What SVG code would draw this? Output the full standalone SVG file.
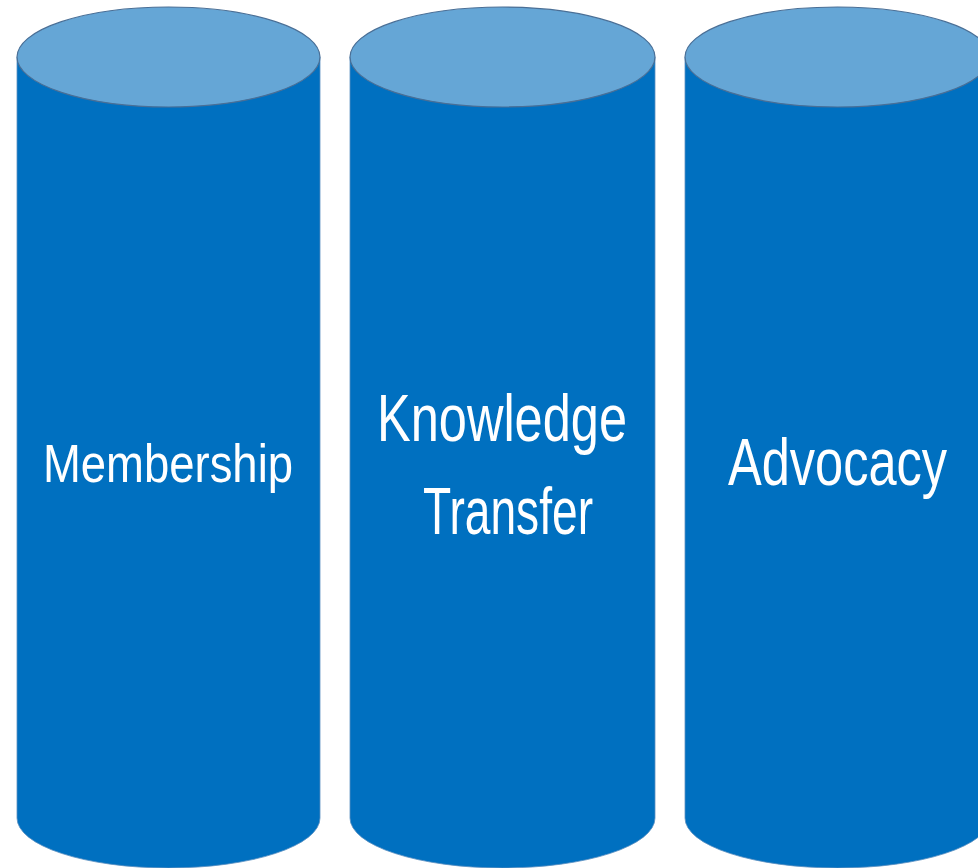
<svg xmlns="http://www.w3.org/2000/svg" width="978" height="868" viewBox="0 0 978 868">
<style>
.body{fill:#0070C0;stroke:#5a8fc0;stroke-width:0.8}
.top{fill:#65A6D6;stroke:#4a6f96;stroke-width:1.2}
.lbl{font-family:"Liberation Sans",Arial,sans-serif;fill:#ffffff;text-anchor:middle}
</style>
<rect width="978" height="868" fill="#ffffff"/>
<g id="membership">
<path class="body" d="M17,57 L17,818 A151.5,50 0 0 0 320,818 L320,57 Z"/>
<ellipse class="top" cx="168.5" cy="57" rx="151.5" ry="50"/>
<text class="lbl" x="168" y="482" font-size="54" textLength="250" lengthAdjust="spacingAndGlyphs">Membership</text>
</g>
<g id="knowledge-transfer">
<path class="body" d="M350,57 L350,818 A152.5,50 0 0 0 655,818 L655,57 Z"/>
<ellipse class="top" cx="502.5" cy="57" rx="152.5" ry="50"/>
<text class="lbl" x="502" y="441" font-size="66" textLength="250" lengthAdjust="spacingAndGlyphs">Knowledge</text>
<text class="lbl" x="508" y="534" font-size="66" textLength="170" lengthAdjust="spacingAndGlyphs">Transfer</text>
</g>
<g id="advocacy">
<path class="body" d="M685,57 L685,818 A152.5,50 0 0 0 990,818 L990,57 Z"/>
<ellipse class="top" cx="837.5" cy="57" rx="152.5" ry="50"/>
<text class="lbl" transform="translate(837.5,485) scale(0.766,1)" x="0" y="0" font-size="66">Advocacy</text>
</g>
<g id="connectors"></g>
</svg>
